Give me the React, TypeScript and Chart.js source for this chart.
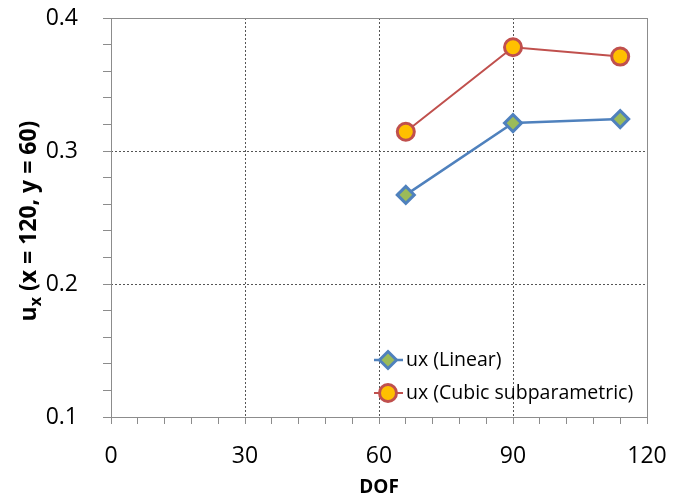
import React, { useEffect, useRef } from "react";
import { Chart, registerables } from "chart.js";

Chart.register(...registerables);

const dofLinear = [66, 90, 114];
const uxLinear = [0.267, 0.321, 0.324];
const dofCubic = [66, 90, 114];
const uxCubic = [0.3145, 0.378, 0.371];
const seriesNames = ["ux (Linear)", "ux (Cubic subparametric)"];
const xTitle = "DOF";
const yTitleMain = "u";
const yTitleSub = "x";
const yTitleRest = " (x = 120, y = 60)";

const FONT = "'Open Sans', 'DejaVu Sans', sans-serif";

const decorPlugin = {
  id: "decor",
  afterDraw(chart: any) {
    const { ctx, chartArea: a } = chart;
    ctx.save();
    // frame
    ctx.strokeStyle = "#8c8c8c";
    ctx.lineWidth = 1;
    ctx.setLineDash([]);
    ctx.strokeRect(Math.round(a.left) + 0.5, Math.round(a.top) + 0.5, Math.round(a.right - a.left), Math.round(a.bottom - a.top));

    // x title
    ctx.fillStyle = "#000";
    ctx.font = `bold 19px ${FONT}`;
    ctx.textAlign = "center";
    ctx.textBaseline = "middle";
    ctx.fillText(xTitle, (a.left + a.right) / 2, 488);

    // y title (rotated, subscript)
    ctx.translate(29, 221);
    ctx.rotate(-Math.PI / 2);
    ctx.font = `bold 23px ${FONT}`;
    const wMain = ctx.measureText(yTitleMain).width;
    const wRest = ctx.measureText(yTitleRest).width;
    ctx.font = `bold 16px ${FONT}`;
    const wSub = ctx.measureText(yTitleSub).width;
    const total = wMain + wSub + wRest;
    let x = -total / 2;
    ctx.textAlign = "left";
    ctx.textBaseline = "alphabetic";
    ctx.font = `bold 23px ${FONT}`;
    ctx.fillText(yTitleMain, x, 7);
    x += wMain;
    ctx.font = `bold 16px ${FONT}`;
    ctx.fillText(yTitleSub, x, 12);
    x += wSub;
    ctx.font = `bold 23px ${FONT}`;
    ctx.fillText(yTitleRest, x, 7);
    ctx.restore();

    // legend
    ctx.save();
    const rows = [360, 393];
    chart.data.datasets.forEach((ds: any, i: number) => {
      const y = rows[i];
      const x0 = 374, x1 = 403, xm = 388;
      ctx.strokeStyle = ds.borderColor;
      ctx.lineWidth = ds.borderWidth;
      ctx.beginPath();
      ctx.moveTo(x0, y);
      ctx.lineTo(x1, y);
      ctx.stroke();
      ctx.fillStyle = ds.pointBackgroundColor;
      ctx.strokeStyle = ds.pointBorderColor;
      ctx.lineWidth = ds.pointBorderWidth;
      ctx.beginPath();
      if (ds.pointStyle === "rectRot") {
        const r = ds.pointRadius;
        ctx.moveTo(xm, y - r);
        ctx.lineTo(xm + r, y);
        ctx.lineTo(xm, y + r);
        ctx.lineTo(xm - r, y);
        ctx.closePath();
      } else {
        ctx.arc(xm, y, ds.pointRadius, 0, Math.PI * 2);
      }
      ctx.fill();
      ctx.stroke();
      ctx.fillStyle = "#000";
      ctx.font = `19.5px ${FONT}`;
      ctx.textAlign = "left";
      ctx.textBaseline = "middle";
      ctx.fillText(ds.label, 406, y);
    });
    ctx.restore();
  },
};

const isMultiple = (v: number, step: number) => Math.abs(v / step - Math.round(v / step)) < 1e-6;

export default function App() {
  const ref = useRef<HTMLCanvasElement>(null);
  useEffect(() => {
    document.body.style.margin = "0";
    const chart = new Chart(ref.current!, {
      type: "line",
      data: {
        datasets: [
          {
            label: seriesNames[0],
            data: dofLinear.map((x, i) => ({ x, y: uxLinear[i] })),
            borderColor: "#4f81bd",
            borderWidth: 2.5,
            pointStyle: "rectRot",
            pointRadius: 8.5,
            pointHoverRadius: 8.5,
            pointBackgroundColor: "#9bbb59",
            pointBorderColor: "#4f81bd",
            pointBorderWidth: 3,
            fill: false,
          },
          {
            label: seriesNames[1],
            data: dofCubic.map((x, i) => ({ x, y: uxCubic[i] })),
            borderColor: "#c0504d",
            borderWidth: 2,
            pointStyle: "circle",
            pointRadius: 8.5,
            pointHoverRadius: 8.5,
            pointBackgroundColor: "#ffc000",
            pointBorderColor: "#c0504d",
            pointBorderWidth: 3,
            fill: false,
          },
        ],
      },
      options: {
        animation: false,
        responsive: false,
        layout: { padding: { left: 0, right: 41, top: 0, bottom: 0 } },
        plugins: { legend: { display: false }, tooltip: { enabled: false } },
        scales: {
          x: {
            type: "linear",
            min: 0,
            max: 120,
            afterFit: (s: any) => { s.height = 84; },
            afterBuildTicks: (s: any) => {
              const t = [];
              for (let v = 0; v <= 120; v += 6) t.push({ value: v });
              s.ticks = t;
            },
            ticks: {
              autoSkip: false,
              maxRotation: 0,
              padding: 21,
              color: "#000",
              font: { family: FONT, size: 23, lineHeight: 1 },
              callback: (v: any) => (isMultiple(Number(v), 30) ? String(v) : ""),
            },
            grid: {
              color: (c: any) => {
                const v = c.tick ? c.tick.value : 0;
                return isMultiple(v, 30) && v > 0 && v < 120 ? "#555" : "rgba(0,0,0,0)";
              },
              tickColor: "#8c8c8c",
              tickLength: 7,
            },
            border: { display: false, dash: [2, 2] },
          },
          y: {
            type: "linear",
            min: 0.1,
            max: 0.4,
            afterFit: (s: any) => {
              s.width = 111;
              s.paddingTop = 18;
              s.paddingBottom = 0;
            },
            afterBuildTicks: (s: any) => {
              const t = [];
              for (let k = 0; k <= 15; k++) t.push({ value: Math.round((0.1 + k * 0.02) * 1000) / 1000 });
              s.ticks = t;
            },
            ticks: {
              autoSkip: false,
              padding: 25,
              color: "#000",
              font: { family: FONT, size: 23, lineHeight: 1 },
              callback: (v: any) => (isMultiple(Number(v), 0.1) ? Number(v).toFixed(1) : ""),
            },
            grid: {
              color: (c: any) => {
                const v = c.tick ? c.tick.value : 0;
                return isMultiple(v, 0.1) && v > 0.1001 && v < 0.3999 ? "#555" : "rgba(0,0,0,0)";
              },
              tickColor: "#8c8c8c",
              tickLength: 8,
            },
            border: { display: false, dash: [2, 2] },
          },
        },
      },
      plugins: [decorPlugin],
    });
    return () => chart.destroy();
  }, []);
  return <canvas ref={ref} width={688} height={501} style={{ display: "block" }} />;
}
